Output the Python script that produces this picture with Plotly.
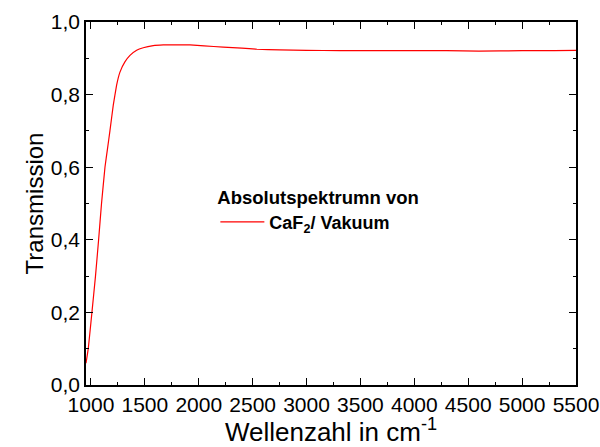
import plotly.graph_objects as go

# Data (wavenumber in cm^-1, transmission)
wavenumber = [954, 975, 1009, 1042, 1071, 1098, 1130, 1153, 1176, 1207, 1238, 1269,
              1315, 1362, 1424, 1485, 1578, 1671, 1800, 1919, 2050, 2227, 2400, 2537,
              2750, 3000, 3310, 3600, 4000, 4300, 4600, 5000, 5300, 5500]
transmission = [0.06, 0.10, 0.20, 0.30, 0.40, 0.50, 0.60, 0.65, 0.70, 0.771, 0.826, 0.862,
                0.890, 0.908, 0.922, 0.929, 0.935, 0.937, 0.937, 0.937, 0.934, 0.931, 0.928,
                0.925, 0.923, 0.922, 0.921, 0.921, 0.921, 0.921, 0.920, 0.921, 0.921, 0.922]

series_name = "CaF<sub>2</sub>/ Vakuum"
legend_title = "Absolutspektrumn von"
x_title = "Wellenzahl in cm<sup>-1</sup>"
y_title = "Transmission"
x_ticks = [1000, 1500, 2000, 2500, 3000, 3500, 4000, 4500, 5000, 5500]
y_ticks = [0.0, 0.2, 0.4, 0.6, 0.8, 1.0]

FONT = "Liberation Sans, Arial, sans-serif"

fig = go.Figure()
fig.add_trace(go.Scatter(
    x=wavenumber, y=transmission, mode="lines", name=series_name,
    line=dict(color="#ff0000", width=1.2, shape="spline", smoothing=0.2),
))

axis_common = dict(
    showline=True, linecolor="black", linewidth=1.5, mirror="ticks",
    ticks="inside", ticklen=7, tickwidth=1.3, tickcolor="black",
    showgrid=False, zeroline=False,
    tickfont=dict(family=FONT, size=21, color="black"),
)

fig.update_xaxes(
    range=[954, 5500], tickvals=x_ticks,
    minor=dict(ticks="inside", ticklen=3.5, tickwidth=1.3, tickcolor="black", dtick=250, tick0=1000),
    title=dict(text=x_title, font=dict(family=FONT, size=26, color="black"), standoff=0),
    **axis_common,
)
fig.update_yaxes(
    range=[0, 1.0], tickvals=y_ticks, tickformat=".1f",
    minor=dict(ticks="inside", ticklen=3.5, tickwidth=1.3, tickcolor="black", dtick=0.1, tick0=0),
    title=dict(text=y_title, font=dict(family=FONT, size=24, color="black"), standoff=0),
    **axis_common,
)

fig.update_layout(
    width=600, height=447,
    margin=dict(l=86, r=24, t=22, b=62, autoexpand=False),
    paper_bgcolor="white", plot_bgcolor="white",
    separators=",.",
    showlegend=True,
    legend=dict(
        x=0.264, y=0.566, xanchor="left", yanchor="top",
        bgcolor="rgba(0,0,0,0)", borderwidth=0,
        title=dict(text="<b>" + legend_title + "</b>", side="top",
                   font=dict(family=FONT, size=18.5, color="black")),
        font=dict(family=FONT, size=18, color="black", weight="bold"),
        itemwidth=44,
    ),
)

fig.write_html("out.html")
